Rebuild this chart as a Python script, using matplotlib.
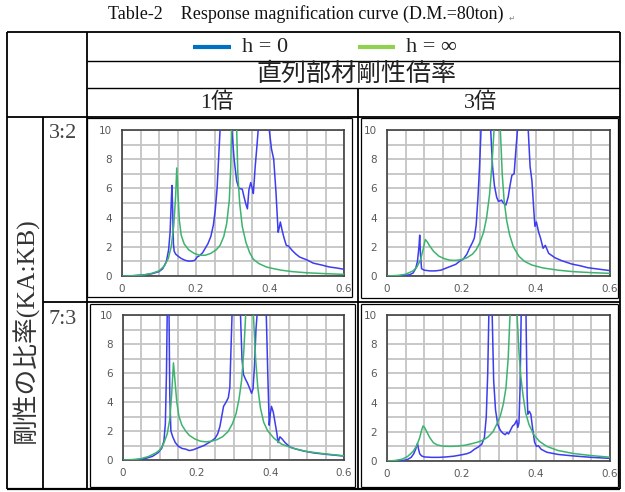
import matplotlib
matplotlib.use("Agg")
import matplotlib.pyplot as plt
from matplotlib.lines import Line2D

W, H = 625, 492

# ---------------- data ----------------
title = "Table-2    Response magnification curve (D.M.=80ton)"
legend_labels = ["h = 0", "h = ∞"]
header_main = "直列部材剛性倍率"
col_labels = ["1倍", "3倍"]
row_labels = ["3:2", "7:3"]
row_title = "剛性の比率(KA:KB)"
x_ticks = [0, 0.2, 0.4, 0.6]
y_ticks = [0, 2, 4, 6, 8, 10]

# top-left (3:2, 1倍)
tl_blue_x = [0, 0.03, 0.06, 0.08, 0.1, 0.11, 0.12, 0.126, 0.13, 0.133, 0.135, 0.137, 0.139, 0.141,
             0.145, 0.152, 0.16, 0.17, 0.18, 0.19, 0.197, 0.203, 0.21, 0.218, 0.225, 0.232, 0.24,
             0.247, 0.252, 0.257, 0.261, 0.265, 0.28, 0.297, 0.303, 0.31, 0.316, 0.325, 0.33, 0.335,
             0.339, 0.343, 0.348, 0.352, 0.355, 0.36, 0.365, 0.368, 0.383, 0.398, 0.404, 0.41, 0.416,
             0.422, 0.425, 0.428, 0.433, 0.438, 0.444, 0.45, 0.46, 0.47, 0.48, 0.5, 0.517, 0.54, 0.56,
             0.58, 0.6]
tl_blue_y = [0, 0.02, 0.08, 0.15, 0.3, 0.5, 1.0, 1.8, 3.0, 5.0, 6.2, 4.5, 2.2, 1.7,
             1.5, 1.35, 1.2, 1.08, 1.02, 1.03, 1.08, 1.3, 1.4, 1.6, 1.9, 2.2, 2.7,
             3.5, 4.5, 6.0, 8.0, 10, 40, 10, 8, 6.5, 6.0, 5.95, 5.4, 4.9,
             4.6, 5.9, 6.4, 6.0, 5.65, 7.5, 9.0, 10, 40, 10, 8.7, 8.0, 5.8,
             3.0, 3.3, 3.7, 3.1, 2.6, 2.1, 2.05, 1.75, 1.5, 1.3, 1.1, 0.88, 0.75, 0.62,
             0.55, 0.46]
tl_green_x = [0, 0.03, 0.06, 0.08, 0.1, 0.115, 0.125, 0.133, 0.14, 0.145, 0.148, 0.151, 0.155, 0.16,
              0.168, 0.18, 0.195, 0.21, 0.225, 0.24, 0.255, 0.265, 0.275, 0.283, 0.29, 0.294, 0.296,
              0.303, 0.31, 0.313, 0.318, 0.325, 0.335, 0.345, 0.355, 0.37, 0.39, 0.41, 0.43, 0.46,
              0.5, 0.55, 0.6]
tl_green_y = [0, 0.02, 0.08, 0.18, 0.35, 0.7, 1.2, 2.0, 3.5, 5.5, 7.4, 5.8, 3.8, 2.8,
              2.2, 1.8, 1.55, 1.42, 1.42, 1.55, 1.8, 2.1, 2.7, 3.6, 5.2, 7.5, 10,
              30, 10, 7, 5.0, 3.4, 2.3, 1.6, 1.15, 0.85, 0.62, 0.5, 0.4, 0.3,
              0.22, 0.16, 0.11]

# top-right (3:2, 3倍)
tr_blue_x = [0, 0.04, 0.06, 0.07, 0.077, 0.082, 0.086, 0.088, 0.09, 0.093, 0.1, 0.115, 0.13, 0.145,
             0.155, 0.165, 0.175, 0.185, 0.195, 0.205, 0.215, 0.222, 0.23, 0.235, 0.24, 0.245, 0.249,
             0.253, 0.266, 0.279, 0.284, 0.289, 0.295, 0.3, 0.308, 0.313, 0.32, 0.326, 0.331, 0.336,
             0.342, 0.347, 0.351, 0.365, 0.38, 0.385, 0.39, 0.395, 0.398, 0.402, 0.408, 0.413, 0.42,
             0.426, 0.435, 0.452, 0.47, 0.497, 0.52, 0.54, 0.56, 0.6]
tr_blue_y = [0, 0.02, 0.08, 0.2, 0.5, 1.0, 2.0, 2.8, 1.5, 0.5, 0.4, 0.35, 0.35, 0.4,
             0.5, 0.6, 0.7, 0.8, 1.0, 1.15, 1.5, 1.9, 2.3, 2.6, 3.5, 5.5, 7.5,
             10, 40, 10, 7.5, 6.2, 5.4, 5.1, 5.2, 5.0, 4.86, 5.4, 6.2, 6.9,
             7.0, 8.7, 10, 40, 10, 7.5, 6.5, 4.5, 3.4, 3.7, 3.0, 2.6, 1.9,
             2.1, 1.55, 1.25, 1.05, 0.82, 0.7, 0.57, 0.5, 0.37]
tr_green_x = [0, 0.03, 0.05, 0.07, 0.08, 0.09, 0.097, 0.103, 0.108, 0.115, 0.125, 0.14, 0.155, 0.17,
              0.185, 0.2, 0.215, 0.23, 0.24, 0.25, 0.26, 0.268, 0.276, 0.282, 0.288, 0.296, 0.305,
              0.31, 0.315, 0.322, 0.33, 0.34, 0.355, 0.37, 0.39, 0.42, 0.46, 0.5, 0.55, 0.6]
tr_green_y = [0, 0.04, 0.12, 0.35, 0.6, 1.1, 1.8, 2.5, 2.35, 2.05, 1.7, 1.35, 1.18, 1.08,
              1.07, 1.12, 1.25, 1.5, 1.8, 2.3, 3.0, 4.0, 5.6, 7.5, 10, 30, 10,
              7, 5.2, 3.8, 2.8, 2.0, 1.35, 1.0, 0.75, 0.55, 0.4, 0.3, 0.23, 0.18]

# bottom-left (7:3, 1倍)
bl_blue_x = [0, 0.04, 0.06, 0.08, 0.095, 0.105, 0.111, 0.115, 0.118, 0.12, 0.1225, 0.125, 0.127, 0.13,
             0.135, 0.142, 0.15, 0.16, 0.17, 0.18, 0.19, 0.2, 0.21, 0.22, 0.23, 0.24, 0.25,
             0.257, 0.263, 0.268, 0.273, 0.28, 0.286, 0.29, 0.293, 0.296, 0.308, 0.319, 0.323, 0.327,
             0.332, 0.338, 0.343, 0.349, 0.353, 0.357, 0.361, 0.364, 0.377, 0.389, 0.393, 0.397, 0.4,
             0.403, 0.408, 0.414, 0.418, 0.421, 0.426, 0.432, 0.44, 0.453, 0.47, 0.49, 0.52, 0.56, 0.6]
bl_blue_y = [0, 0.03, 0.1, 0.25, 0.5, 0.8, 1.3, 2.5, 6, 10, 40, 10, 4.5, 2.0,
             1.6, 1.2, 0.95, 0.8, 0.75, 0.65, 0.7, 0.8, 0.9, 1.0, 1.15, 1.3, 1.5,
             1.8, 2.3, 3.0, 3.7, 4.0, 4.3, 5.0, 7.5, 10, 40, 10, 7, 5.9,
             5.6, 5.3, 5.0, 4.6, 4.9, 6.5, 9, 10, 40, 10, 6, 2.4, 3.2,
             3.7, 3.3, 2.4, 1.8, 1.2, 1.6, 1.45, 1.2, 0.9, 0.75, 0.62, 0.48, 0.37, 0.27]
bl_green_x = [0, 0.03, 0.05, 0.07, 0.09, 0.1, 0.11, 0.12, 0.127, 0.132, 0.137, 0.141, 0.146, 0.152,
              0.16, 0.17, 0.18, 0.195, 0.21, 0.225, 0.24, 0.255, 0.27, 0.285, 0.297, 0.307, 0.315,
              0.322, 0.328, 0.333, 0.344, 0.354, 0.36, 0.366, 0.373, 0.382, 0.393, 0.41, 0.43, 0.46,
              0.5, 0.55, 0.6]
bl_green_y = [0, 0.03, 0.1, 0.25, 0.5, 0.7, 1.1, 1.8, 2.8, 4.5, 6.7, 5.5, 4.0, 3.0,
              2.4, 2.0, 1.7, 1.45, 1.3, 1.25, 1.3, 1.4, 1.6, 1.95, 2.5, 3.2, 4.2,
              5.5, 7.5, 10, 30, 10, 7.0, 5.0, 3.6, 2.6, 2.0, 1.5, 1.1, 0.82,
              0.58, 0.42, 0.29]

# bottom-right (7:3, 3倍)
br_blue_x = [0, 0.04, 0.055, 0.065, 0.072, 0.077, 0.082, 0.085, 0.088, 0.093, 0.1, 0.12, 0.14, 0.16,
             0.18, 0.2, 0.215, 0.225, 0.235, 0.245, 0.255, 0.262, 0.267, 0.271, 0.274, 0.2785, 0.283,
             0.287, 0.292, 0.298, 0.305, 0.312, 0.318, 0.323, 0.327, 0.332, 0.338, 0.343, 0.349, 0.352,
             0.355, 0.358, 0.361, 0.367, 0.374, 0.377, 0.379, 0.383, 0.387, 0.392, 0.397, 0.402, 0.407,
             0.415, 0.43, 0.46, 0.5, 0.55, 0.6]
br_blue_y = [0, 0.02, 0.1, 0.25, 0.5, 0.8, 1.2, 0.8, 0.5, 0.35, 0.28, 0.25, 0.25, 0.28,
             0.33, 0.42, 0.5, 0.6, 0.8, 0.95, 1.15, 1.6, 3.0, 6.0, 10, 40, 10,
             5.5, 3.5, 2.5, 2.1, 1.9, 1.8, 1.95, 1.85, 2.1, 2.4, 2.5, 2.8, 2.3,
             2.6, 5, 10, 40, 10, 4.5, 3.2, 3.4, 3.2, 2.2, 1.3, 1.0, 1.05,
             0.8, 0.6, 0.45, 0.35, 0.25, 0.18]
br_green_x = [0, 0.02, 0.04, 0.055, 0.07, 0.08, 0.088, 0.093, 0.097, 0.101, 0.107, 0.115, 0.125, 0.135,
              0.15, 0.17, 0.19, 0.21, 0.23, 0.245, 0.26, 0.272, 0.285, 0.295, 0.305, 0.313, 0.32,
              0.326, 0.331, 0.34, 0.35, 0.355, 0.36, 0.366, 0.373, 0.382, 0.395, 0.41, 0.43, 0.46,
              0.5, 0.55, 0.6]
br_green_y = [0, 0.03, 0.12, 0.3, 0.65, 1.05, 1.6, 2.1, 2.4, 2.3, 2.0, 1.6, 1.25, 1.1,
              1.02, 1.0, 1.02, 1.08, 1.2, 1.3, 1.45, 1.65, 2.0, 2.5, 3.1, 3.9, 5.0,
              7.0, 10, 30, 10, 7.5, 5.8, 4.5, 3.3, 2.5, 1.8, 1.35, 1.0, 0.72,
              0.52, 0.37, 0.26]

# ---------------- figure ----------------
fig = plt.figure(figsize=(W / 100, H / 100), dpi=100)
fig.patch.set_facecolor("white")

CJK = ["Liberation Serif", "Noto Sans CJK JP"]
BLUE_C = "#3c3cf0"
GREEN_C = "#3cb46e"


def fx(x):
    return x / W


def fy(y):
    return 1 - y / H


def hline(y, x0, x1, lw=1.3, color="black"):
    fig.add_artist(Line2D([fx(x0), fx(x1)], [fy(y), fy(y)], transform=fig.transFigure,
                          color=color, lw=lw, solid_capstyle="butt"))


def vline(x, y0, y1, lw=1.3, color="black"):
    fig.add_artist(Line2D([fx(x), fx(x)], [fy(y0), fy(y1)], transform=fig.transFigure,
                          color=color, lw=lw, solid_capstyle="butt"))


# title
fig.text(fx(306), fy(14), title, family="Liberation Serif", fontsize=13,
         ha="center", va="center", color="#111111")
fig.text(fx(512), fy(18), "↵", family="DejaVu Sans", fontsize=5.5, ha="center",
         va="center", color="#888888")

# table grid
hline(32, 7, 620)
hline(61, 87, 620, lw=1.0)
hline(88, 87, 620, lw=1.0)
hline(117, 7, 620)
hline(302, 43, 620)
hline(489, 7, 620, lw=1.6)
vline(7, 32, 489)
vline(43, 117, 489)
vline(87, 32, 489)
vline(358, 88, 489)
vline(620, 32, 489)

# inner picture frames
for (l, t, r, b) in [(87, 118, 352, 297), (361, 118, 618, 298),
                     (90, 304, 355, 487), (361, 304, 618, 487)]:
    hline(t, l, r, lw=0.9)
    hline(b, l, r, lw=0.9)
    vline(l, t, b, lw=0.9)
    vline(r, t, b, lw=0.9)

# legend row
fig.add_artist(Line2D([fx(193), fx(231)], [fy(47), fy(47)], transform=fig.transFigure,
                      color="#0070c0", lw=3, solid_capstyle="butt"))
fig.text(fx(242), fy(47), legend_labels[0], family="Liberation Serif", fontsize=16,
         ha="left", va="center", color="#222222")
fig.add_artist(Line2D([fx(358), fx(395)], [fy(47), fy(47)], transform=fig.transFigure,
                      color="#92d050", lw=3, solid_capstyle="butt"))
fig.text(fx(406), fy(47), legend_labels[1], family=["Liberation Serif", "DejaVu Serif"],
         fontsize=16, ha="left", va="center", color="#222222")

# header rows
fig.text(fx(356), fy(74.5), header_main, family=CJK, fontsize=18, ha="center",
         va="center", color="#222222")
fig.text(fx(217), fy(102.5), col_labels[0], family=CJK, fontsize=16, ha="center",
         va="center", color="#222222")
fig.text(fx(481), fy(102.5), col_labels[1], family=CJK, fontsize=16, ha="center",
         va="center", color="#222222")

# row labels
fig.text(fx(63), fy(133), row_labels[0], family="Liberation Serif", fontsize=16,
         ha="center", va="center", color="#444444")
fig.text(fx(63), fy(320), row_labels[1], family="Liberation Serif", fontsize=16,
         ha="center", va="center", color="#444444")
fig.text(fx(25), fy(330), row_title, family=CJK, fontsize=18.5, ha="center",
         va="center", rotation=90, color="#333333")


# ---------------- charts ----------------
def make_ax(l, t, r, b, bx, by, gx, gy):
    ax = fig.add_axes([fx(l), fy(b), (r - l) / W, (b - t) / H])
    ax.plot(bx, by, color=BLUE_C, lw=1.1, zorder=3)
    ax.plot(gx, gy, color=GREEN_C, lw=1.1, zorder=3)
    ax.set_xlim(0, 0.6)
    ax.set_ylim(0, 10)
    ax.set_xticks(x_ticks)
    ax.set_xticklabels([f"{v:g}" for v in x_ticks])
    ax.set_yticks(y_ticks)
    ax.set_yticklabels([f"{v:g}" for v in y_ticks])
    ax.set_xticks([i * 0.05 for i in range(13)], minor=True)
    ax.set_yticks(list(range(11)), minor=True)
    ax.grid(True, which="both", color="#c4c4c4", lw=1.3, zorder=1)
    ax.set_axisbelow(True)
    ax.tick_params(which="both", length=0)
    ax.tick_params(axis="y", pad=7, labelsize=7.5, labelcolor="#595959")
    ax.tick_params(axis="x", pad=6, labelsize=7.5, labelcolor="#595959")
    for s in ax.spines.values():
        s.set_color("#404040")
        s.set_linewidth(1.2)
    return ax


make_ax(122, 130, 344, 276, tl_blue_x, tl_blue_y, tl_green_x, tl_green_y)
make_ax(387, 130, 610, 276, tr_blue_x, tr_blue_y, tr_green_x, tr_green_y)
make_ax(123, 315, 344, 460, bl_blue_x, bl_blue_y, bl_green_x, bl_green_y)
make_ax(387, 315, 610, 461, br_blue_x, br_blue_y, br_green_x, br_green_y)

fig.savefig("out.png", dpi=100, facecolor="white")
